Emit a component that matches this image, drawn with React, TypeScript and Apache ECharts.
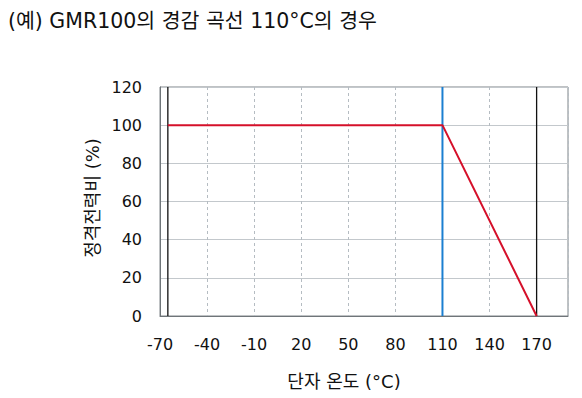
import React, { useEffect, useRef } from "react";
import * as echarts from "echarts";

const titleText = "(예) GMR100의 경감 곡선 110°C의 경우";
const xAxisName = "단자 온도 (°C)";
const yAxisName = "정격전력비 (%)";
const deratingCurve: [number, number][] = [
  [-65, 100],
  [110, 100],
  [170, 0],
];
const lowerLimit: [number, number][] = [
  [-65, 0],
  [-65, 120],
];
const upperLimit: [number, number][] = [
  [170, 0],
  [170, 120],
];
const ratedTemp: [number, number][] = [
  [110, 0],
  [110, 120],
];

export default function App() {
  const ref = useRef<HTMLDivElement>(null);
  useEffect(() => {
    const chart = echarts.init(ref.current!, null, { renderer: "svg" });
    const numFont = { fontFamily: "DejaVu Sans", fontSize: 16, color: "#111" };
    const fam = "'DejaVu Sans', 'Noto Sans CJK KR'";
    chart.setOption({
      animation: false,
      backgroundColor: "#fff",
      title: {
        text: titleText,
        left: 3,
        top: 6,
        textStyle: { fontFamily: fam, fontSize: 20.5, fontWeight: "normal", color: "#111" },
      },
      grid: {
        left: 160,
        top: 87,
        right: 14,
        bottom: 82,
        show: true,
        borderColor: "#7f8589",
        borderWidth: 1,
        backgroundColor: "transparent",
      },
      xAxis: {
        type: "value",
        min: -70,
        max: 190,
        interval: 30,
        axisLine: { show: true, onZero: false, lineStyle: { color: "#6f7579" } },
        axisTick: { show: false },
        axisLabel: {
          ...numFont,
          margin: 20,
          showMaxLabel: false,
          formatter: (v: number) => (v > 170 ? "" : String(v)),
        },
        splitLine: { show: true, lineStyle: { color: "#b5bcc2", type: [3, 3], width: 1 } },
      },
      yAxis: {
        type: "value",
        min: 0,
        max: 120,
        interval: 20,
        axisLine: { show: true, onZero: false, lineStyle: { color: "#6f7579" } },
        axisTick: { show: false },
        axisLabel: { ...numFont, margin: 18 },
        splitLine: { show: true, lineStyle: { color: "#c3c8cc", width: 1.2 } },
      },
      graphic: [
        {
          type: "text",
          x: 344,
          y: 381,
          style: {
            text: xAxisName,
            font: `18px ${fam}`,
            fill: "#111",
            align: "center",
            verticalAlign: "middle",
          },
        },
        {
          type: "text",
          x: 92,
          y: 198,
          rotation: Math.PI / 2,
          style: {
            text: yAxisName,
            font: `18px ${fam}`,
            fill: "#111",
            align: "center",
            verticalAlign: "middle",
          },
        },
      ],
      series: [
        {
          type: "line",
          data: lowerLimit,
          symbol: "none",
          lineStyle: { color: "#111", width: 1.3 },
          silent: true,
        },
        {
          type: "line",
          data: upperLimit,
          symbol: "none",
          lineStyle: { color: "#111", width: 1.3 },
          silent: true,
        },
        {
          type: "line",
          data: ratedTemp,
          symbol: "none",
          lineStyle: { color: "#1b7fd1", width: 2 },
          silent: true,
        },
        {
          type: "line",
          data: deratingCurve,
          symbol: "none",
          lineStyle: { color: "#d5102a", width: 2 },
          silent: true,
        },
      ],
    });
    return () => chart.dispose();
  }, []);
  return (
    <div
      ref={ref}
      style={{ position: "fixed", left: 0, top: 0, width: 582, height: 398, background: "#fff" }}
    />
  );
}
